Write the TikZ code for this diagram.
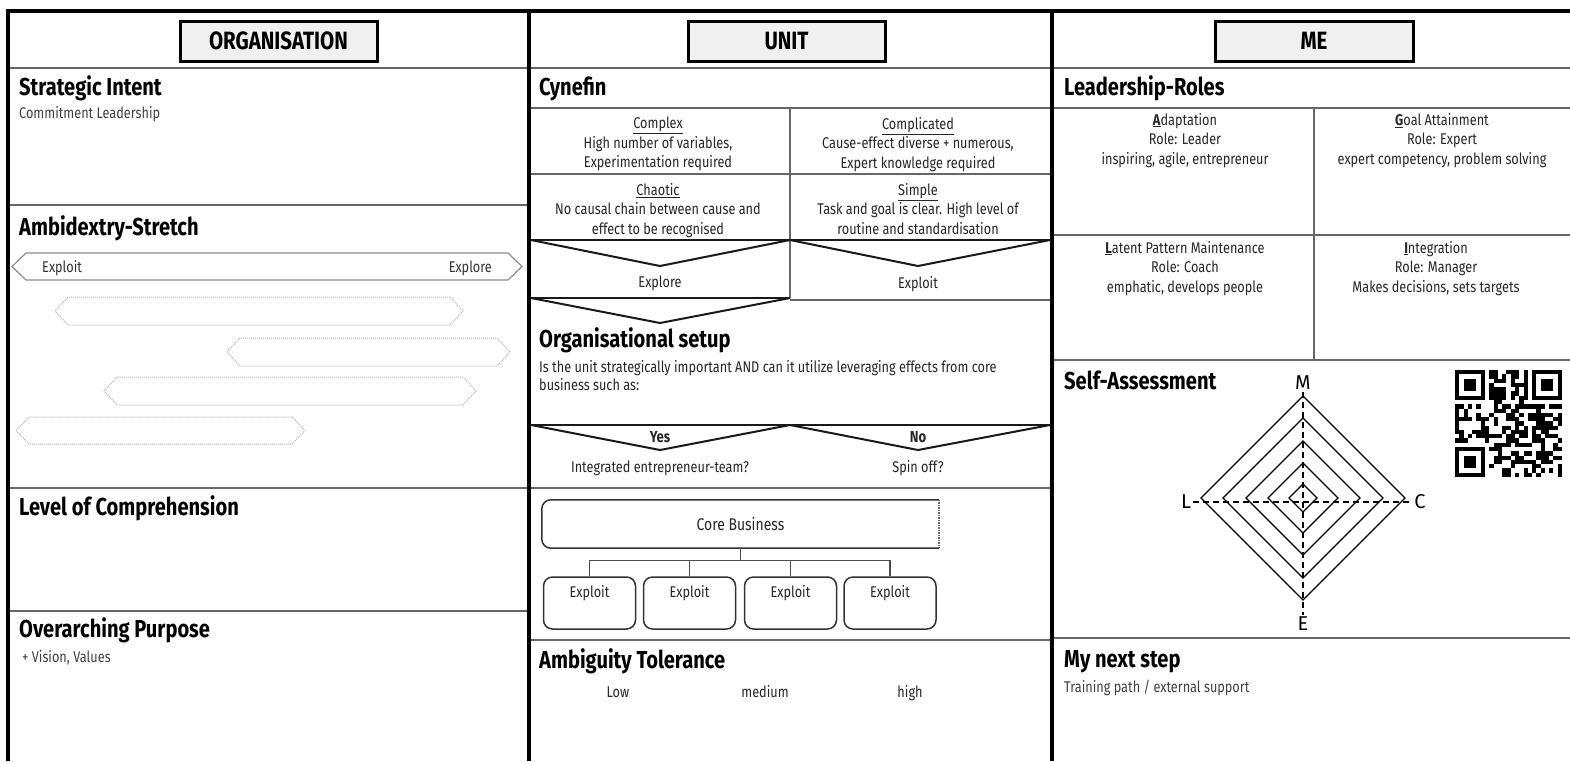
\documentclass[tikz,border=0pt]{standalone}
\usepackage{fontspec}
\setmainfont[FakeStretch=0.82]{Fira Sans}
\newfontfamily\plainfont{Fira Sans}
\usetikzlibrary{calc}
\begin{document}
\begin{tikzpicture}[x=1pt,y=-1pt,
  frame/.style={line width=4pt},
  sep/.style={draw=black!60, line width=1.5pt},
  blk/.style={draw=black!90, line width=2pt},
  head/.style={anchor=base west, inner sep=0, font=\fontsize{24.5}{26}\selectfont\bfseries},
  note/.style={anchor=base west, inner sep=0, font=\fontsize{15.5}{17}\selectfont, text=black!75},
  cell/.style={anchor=north, inner sep=0, align=center, font=\fontsize{15.5}{19.5}\selectfont, text=black!85},
  lbl/.style={anchor=base, inner sep=0, font=\fontsize{15.5}{17}\selectfont, text=black!85},
  titlebox/.style={draw, line width=3pt, fill=black!6, minimum width=197pt, minimum height=40pt, inner sep=0, font=\fontsize{25}{27}\selectfont\bfseries},
  exbox/.style={draw=black!80, line width=1.5pt, rounded corners=9pt, minimum width=92pt, minimum height=52pt, inner sep=0},
  ghost/.style={draw=black!30, densely dotted, line width=1pt},
  axlbl/.style={inner sep=2pt, font=\plainfont\fontsize{20}{22}\selectfont}
]
\useasboundingbox (0,0) rectangle (1570,761);
\fill[white] (0,0) rectangle (1570,761);

% ---------- separators ----------
\draw[sep] (8,68) -- (1570,68);
\draw[sep] (8,205) -- (529,205);
\draw[sep] (8,488) -- (529,488);
\draw[sep] (8,611) -- (529,611);

\draw[sep] (529,108) -- (1052,108);
\draw[sep] (529,174) -- (1052,174);
\draw[sep] (790,108) -- (790,298);
\draw[sep] (790,300) -- (1052,300);
\draw[sep] (529,488) -- (1052,488);
\draw[sep] (529,640) -- (1052,640);
\draw[blk] (529,240) -- (1052,240);
\draw[blk] (529,298) -- (790,298);
\draw[blk] (529,425) -- (1052,425);
\draw[blk] (531,240) -- (660,266) -- (790,240) -- (918,266) -- (1050,240);
\draw[blk] (531,298) -- (660,323) -- (790,298);
\draw[blk] (531,425) -- (660,450) -- (790,425) -- (918,450) -- (1050,425);

\draw[sep] (1052,108) -- (1570,108);
\draw[sep] (1052,235) -- (1570,235);
\draw[sep] (1052,360) -- (1570,360);
\draw[sep] (1052,638) -- (1570,638);
\draw[sep] (1314,108) -- (1314,360);

% ---------- frame ----------
\draw[frame] (8,761) -- (8,11) -- (1570,11);
\draw[frame] (529,11) -- (529,761);
\draw[frame] (1052,11) -- (1052,761);

% ---------- titles ----------
\node[titlebox] (torg) at (278.5,41) {ORGANISATION};
\node[titlebox] (tunit) at (786.5,41) {UNIT};
\node[titlebox, minimum width=198pt] (tme) at (1314,41) {ME};

% ---------- column 1 ----------
\node[head] (h11) at (19,95) {Strategic Intent};
\node[note] (n11) at (19,118) {Commitment Leadership};
\node[head] (h12) at (19,235) {Ambidextry-Stretch};
\draw[draw=black!45, line width=1.2pt, fill=white] (12,266.5) -- (26,253) -- (508,253) -- (522,266.5) -- (508,280) -- (26,280) -- cycle;
\node[note, text=black!80] (xpl) at (42,272) {Exploit};
\node[note, anchor=base east, text=black!80] (xpr) at (492,272) {Explore};
\draw[ghost] (55,311) -- (68,297) -- (450,297) -- (463,311) -- (450,325) -- (68,325) -- cycle;
\draw[ghost] (227,352) -- (240,338) -- (497,338) -- (510,352) -- (497,366) -- (240,366) -- cycle;
\draw[ghost] (104,391) -- (117,377) -- (463,377) -- (476,391) -- (463,405) -- (117,405) -- cycle;
\draw[ghost] (16,430.5) -- (29,417) -- (292,417) -- (305,430.5) -- (292,444) -- (29,444) -- cycle;
\node[head] (h13) at (19,515) {Level of Comprehension};
\node[head] (h14) at (19,637) {Overarching Purpose};
\node[note] (n14) at (22,662) {+ Vision, Values};

% ---------- column 2 ----------
\node[head] (h21) at (539,95) {Cynefin};
\node[cell] (cy1) at (658,117) {\underline{Complex}\\High number of variables,\\Experimentation required};
\node[cell] (cy2) at (918,117) {\underline{Complicated}\\Cause-effect diverse + numerous,\\Expert knowledge required};
\node[cell] (cy3) at (658,183) {\underline{Chaotic}\\No causal chain between cause and\\effect to be recognised};
\node[cell] (cy4) at (918,183) {\underline{Simple}\\Task and goal is clear. High level of\\routine and standardisation};
\node[lbl] (exr) at (660,287) {Explore};
\node[lbl] (exi) at (918,288) {Exploit};
\node[head] (h22) at (539,347) {Organisational setup};
\node[note, text=black!85] (n22a) at (539,372) {Is the unit strategically important AND can it utilize leveraging effects from core};
\node[note, text=black!85] (n22b) at (539,390) {business such as:};
\node[lbl, font=\fontsize{16}{18}\selectfont\bfseries] (yes) at (660,442) {Yes};
\node[lbl, font=\fontsize{16}{18}\selectfont\bfseries] (no) at (918,442) {No};
\node[lbl] (yes2) at (660,472) {Integrated entrepreneur-team?};
\node[lbl] (no2) at (918,472) {Spin off?};

\node[minimum width=397pt, minimum height=48pt, inner sep=0, font=\fontsize{17}{19}\selectfont, text=black!85] (core) at (740.5,524) {Core Business};
\draw[draw=black!80, line width=1.5pt, rounded corners=9pt] (core.north east) -- (core.north west) -- (core.south west) -- (core.south east);
\draw[draw=black!60, line width=1.5pt, densely dotted] (core.north east) -- (core.south east);
\foreach \n/\cx in {e1/589.5, e2/689.5, e3/790.5, e4/890}{
  \node[exbox, label={[anchor=north, inner sep=0, yshift=-9pt, font=\fontsize{15.5}{17}\selectfont, text=black!85]north:Exploit}] (\n) at (\cx,603) {};
}
\draw[draw=black!70, line width=1.3pt] (core.south) -- ++(0,12) coordinate (bus);
\draw[draw=black!70, line width=1.3pt] (e1.north) |- (bus) -| (e4.north);
\draw[draw=black!70, line width=1.3pt] (e2.north) -- (e2.north |- bus);
\draw[draw=black!70, line width=1.3pt] (e3.north) -- (e3.north |- bus);

\node[head] (h23) at (539,668) {Ambiguity Tolerance};
\node[lbl] (low) at (618,697) {Low};
\node[lbl] (med) at (765,697) {medium};
\node[lbl] (hig) at (910,697) {high};

% ---------- column 3 ----------
\node[head] (h31) at (1064,95) {Leadership-Roles};
\node[cell] (lr1) at (1185,113) {\underline{\textbf{A}}daptation\\Role: Leader\\inspiring, agile, entrepreneur};
\node[cell] (lr2) at (1442,113) {\underline{\textbf{G}}oal Attainment\\Role: Expert\\expert competency, problem solving};
\node[cell] (lr3) at (1185,241) {\underline{\textbf{L}}atent Pattern Maintenance\\Role: Coach\\emphatic, develops people};
\node[cell] (lr4) at (1436,241) {\underline{\textbf{I}}ntegration\\Role: Manager\\Makes decisions, sets targets};

\node[head] (h32) at (1064,389) {Self-Assessment};
\coordinate (rc) at (1303,498);
\foreach \r in {102,80,57,35,14}{
  \draw[line width=1.3pt] ($(rc)+(0,-\r)$) -- ($(rc)+(\r,0)$) -- ($(rc)+(0,\r)$) -- ($(rc)+(-\r,0)$) -- cycle;
}
\node[axlbl] (M) at (1303,383) {M};
\node[axlbl] (L) at (1186,502) {L};
\node[axlbl] (C) at (1420,502) {C};
\node[axlbl] (E) at (1303,624) {E};
\draw[dash pattern=on 6pt off 4pt, line width=1.2pt] (M.south) -- (E.north);
\draw[dash pattern=on 6pt off 4pt, line width=1.2pt] (L.east) -- (C.west);

% QR code
\def\qm{4.28}
\pgfmathsetseed{4242}
\foreach \i in {0,...,24}{
  \foreach \j in {0,...,24}{
    \pgfmathtruncatemacro{\qrskip}{or(and(\i<8,\j<8), or(and(\i>16,\j<8), and(\i<8,\j>16)))}
    \pgfmathtruncatemacro{\qrbit}{rnd<0.55}
    \ifnum\qrskip=0 \ifnum\qrbit=1
      \fill ({1455+\i*\qm},{370+\j*\qm}) rectangle ++(\qm,\qm);
    \fi\fi
  }
}
\foreach \fx/\fy in {0/0, 18/0, 0/18}{
  \fill ({1455+\fx*\qm},{370+\fy*\qm}) rectangle ++({7*\qm},{7*\qm});
  \fill[white] ({1455+(\fx+1)*\qm},{370+(\fy+1)*\qm}) rectangle ++({5*\qm},{5*\qm});
  \fill ({1455+(\fx+2)*\qm},{370+(\fy+2)*\qm}) rectangle ++({3*\qm},{3*\qm});
}

\node[head] (h33) at (1064,667) {My next step};
\node[note] (n33) at (1064,692) {Training path / external support};
\end{tikzpicture}
\end{document}
